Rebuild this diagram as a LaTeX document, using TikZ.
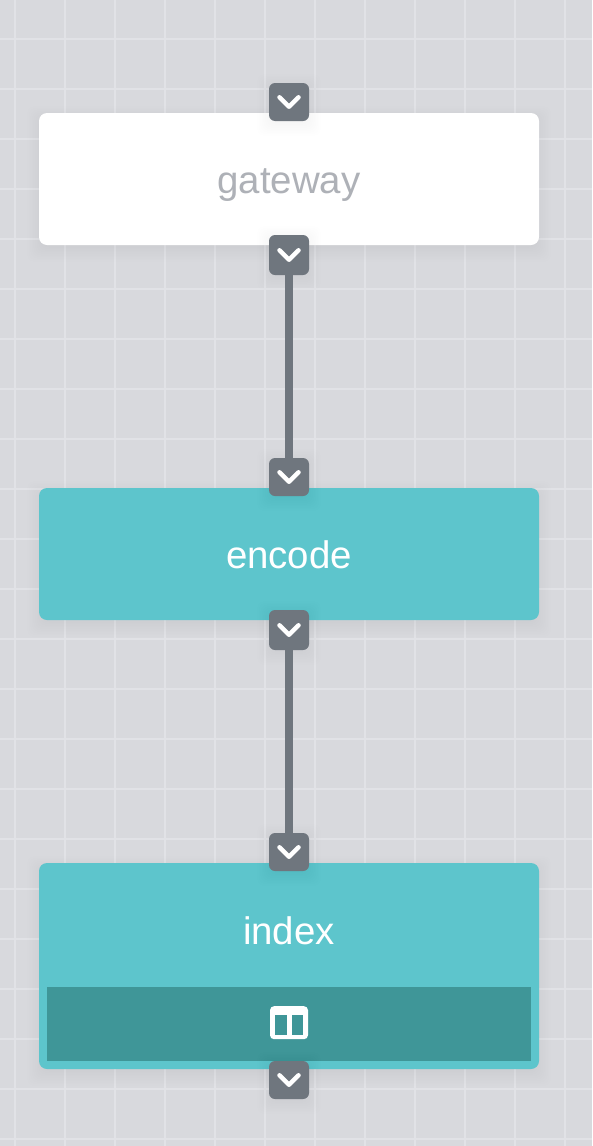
\documentclass[tikz,border=0pt]{standalone}
\usepackage{fontspec}
\setmainfont{Liberation Sans}
\definecolor{bgc}{HTML}{D8D9DD}
\definecolor{gridc}{HTML}{E1E2E6}
\definecolor{tealc}{HTML}{5DC5CC}
\definecolor{darkc}{HTML}{3F9698}
\definecolor{handc}{HTML}{6F767E}
\definecolor{labelc}{HTML}{AEB1B7}
\tikzset{
  x=1pt,y=-1pt,
  card/.style={draw=none,rounded corners=8pt,inner sep=0pt,outer sep=0pt,minimum width=500pt},
  handlebox/.style={draw=none,fill=handc,rounded corners=6pt,inner sep=0pt,outer sep=0pt,minimum width=40pt},
  lab/.style={font=\fontsize{38.4}{38.4}\selectfont,anchor=base,inner sep=0pt},
  chev/.style={draw=white,line width=4.5pt,line cap=round,line join=round},
  conn/.style={draw=handc,line width=8pt},
}
% soft shadow: x1,y1,x2,y2,offset
\newcommand{\softshadow}[5]{%
  \foreach \g in {1,...,10}{
    \fill[black,opacity=0.005,rounded corners=8pt]
      ({#1-\g*1.6+4},{#2-\g*1.6+4+#5}) rectangle ({#3+\g*1.6-4},{#4+\g*1.6-4+#5});
  }}
\newcommand{\chevron}[1]{%
  \draw[chev] ([shift={(-9.5,-4.7)}]#1.center) -- ([shift={(0,4.7)}]#1.center) -- ([shift={(9.5,-4.7)}]#1.center);}
\begin{document}
\begin{tikzpicture}
\useasboundingbox (0,0) rectangle (592,1146);
\fill[bgc] (0,0) rectangle (592,1146);
\foreach \vx in {15,65,...,565} {\draw[gridc,line width=1.2pt] (\vx,0) -- (\vx,1146);}
\foreach \hy in {39,89,...,1139} {\draw[gridc,line width=1.2pt] (0,\hy) -- (592,\hy);}

% shadows
\softshadow{39}{113}{539}{245}{5}
\softshadow{39}{488}{539}{620}{5}
\softshadow{39}{863}{539}{1069}{5}

% cards
\node[card,fill=white,minimum height=132pt] (gateway) at (289,179) {};
\node[card,fill=tealc,minimum height=132pt] (encode) at (289,554) {};
\node[card,fill=tealc,minimum height=206pt] (index) at (289,966) {};
\node[fill=darkc,draw=none,inner sep=0pt,minimum width=484pt,minimum height=74pt] (panel) at (289,1024) {};

% labels
\node[lab,text=labelc] (tgateway) at (289,193) {gateway};
\node[lab,text=white] (tencode) at (289,568) {encode};
\node[lab,text=white] (tindex) at (289,944) {index};

% icon
\node[fill=white,draw=none,rounded corners=4pt,inner sep=0pt,minimum width=38pt,minimum height=33pt] (icon) at (289,1022.7) {};
\fill[darkc] (275,1015) rectangle (286.7,1035);
\fill[darkc] (291.7,1015) rectangle (303,1035);

% handle shadows
\softshadow{269}{83}{309}{121}{3}
\softshadow{269}{235}{309}{275}{3}
\softshadow{269}{458}{309}{496}{3}
\softshadow{269}{610}{309}{650}{3}
\softshadow{269}{833}{309}{871}{3}
\softshadow{269}{1061}{309}{1099}{3}

% connectors
\node[handlebox,minimum height=38pt] (h1) at (289,102) {};
\node[handlebox,minimum height=40pt] (h2) at (289,255) {};
\node[handlebox,minimum height=38pt] (h3) at (289,477) {};
\node[handlebox,minimum height=40pt] (h4) at (289,630) {};
\node[handlebox,minimum height=38pt] (h5) at (289,852) {};
\node[handlebox,minimum height=38pt] (h6) at (289,1080) {};
\draw[conn] (h2) -- (h3);
\draw[conn] (h4) -- (h5);
\foreach \h in {h1,h2,h3,h4,h5,h6} {\chevron{\h}}
\end{tikzpicture}
\end{document}
